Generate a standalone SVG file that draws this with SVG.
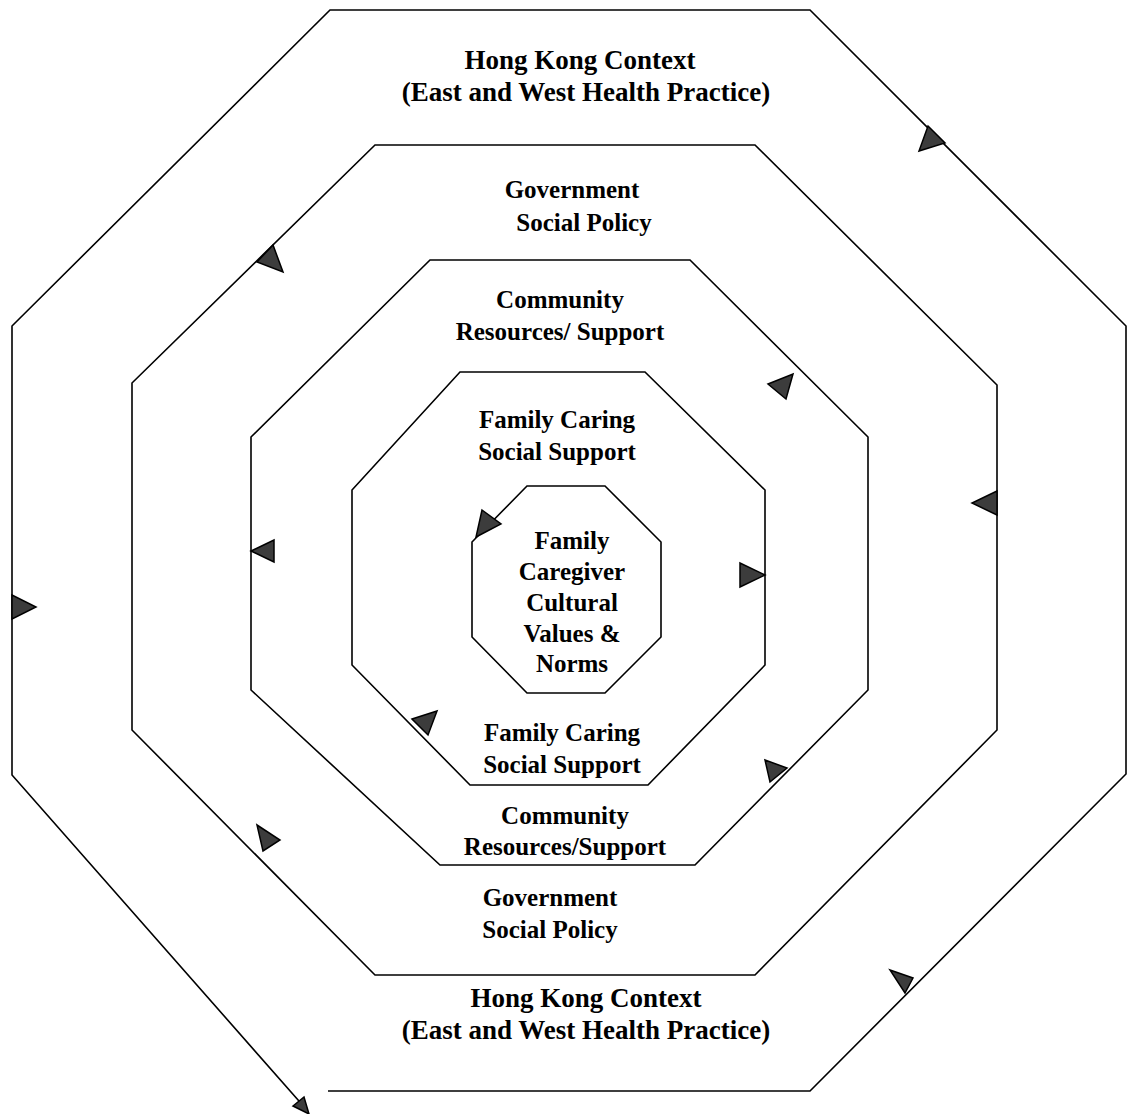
<svg xmlns="http://www.w3.org/2000/svg" width="1134" height="1114" viewBox="0 0 1134 1114">
  <style>
    .ring { fill: none; stroke: #000; stroke-width: 1.6; stroke-linejoin: miter; }
    .tri { fill: #3c3c3c; stroke: #000; stroke-width: 1.5; stroke-linejoin: miter; }
    .lbl { font-family: "Liberation Serif", "Times New Roman", serif; font-weight: bold; font-size: 25px; fill: #000; text-anchor: middle; }
    .big { font-size: 27px; }
  </style>
  <rect width="1134" height="1114" fill="#fff"/>

  <!-- Outer ring: Hong Kong context -->
  <g id="ring-hongkong">
    <path class="ring" d="M328,1091 L810,1091 L1126,774 L1126,326 L810,10 L330,10 L12,326 L12,775 L306,1109"/>
    <polygon class="tri" points="928,126 945,143 919,151"/>
    <polygon class="tri" points="12,595 12,619 36,607"/>
    <polygon class="tri" points="890,970 913,978 905,993"/>
    <polygon class="tri" points="293,1106 304,1097 309,1114" fill="#000"/>
    <text class="lbl big" x="580" y="69">Hong Kong Context</text>
    <text class="lbl big" x="586" y="101">(East and West Health Practice)</text>
    <text class="lbl big" x="586" y="1007">Hong Kong Context</text>
    <text class="lbl big" x="586" y="1039">(East and West Health Practice)</text>
  </g>

  <!-- Government social policy ring -->
  <g id="ring-government">
    <path class="ring" d="M375,145 L755,145 L997,385 L997,730 L755,975 L375,975 L132,730 L132,383 Z"/>
    <polygon class="tri" points="273,245 257,262 283,272"/>
    <polygon class="tri" points="997,491 997,515 972,503"/>
    <polygon class="tri" points="257,825 280,840 263,851"/>
    <text class="lbl" x="572" y="198">Government</text>
    <text class="lbl" x="584" y="231">Social Policy</text>
    <text class="lbl" x="550" y="906">Government</text>
    <text class="lbl" x="550" y="938">Social Policy</text>
  </g>

  <!-- Community resources / support ring -->
  <g id="ring-community">
    <path class="ring" d="M430,260 L690,260 L868,437 L868,690 L695,865 L440,865 L251,690 L251,437 Z"/>
    <polygon class="tri" points="768,384 793,374 786,399"/>
    <polygon class="tri" points="274,540 274,562 251,551"/>
    <polygon class="tri" points="765,760 787,768 770,782"/>
    <text class="lbl" x="560" y="308">Community</text>
    <text class="lbl" x="560" y="340">Resources/ Support</text>
    <text class="lbl" x="565" y="824">Community</text>
    <text class="lbl" x="565" y="855">Resources/Support</text>
  </g>

  <!-- Family caring social support ring -->
  <g id="ring-family">
    <path class="ring" d="M460,372 L645,372 L765,490 L765,665 L648,785 L470,785 L352,665 L352,490 Z"/>
    <polygon class="tri" points="740,563 740,587 765,575"/>
    <polygon class="tri" points="412,719 437,711 428,735"/>
    <text class="lbl" x="557" y="428">Family Caring</text>
    <text class="lbl" x="557" y="460">Social Support</text>
    <text class="lbl" x="562" y="741">Family Caring</text>
    <text class="lbl" x="562" y="773">Social Support</text>
  </g>

  <!-- Core: caregiver cultural values -->
  <g id="core-values">
    <path class="ring" d="M527,486 L605,486 L661,542 L661,637 L605,693 L527,693 L472,637 L472,542 Z"/>
    <polygon class="tri" points="482,510 501,524 476,537"/>
    <text class="lbl" x="572" y="549">Family</text>
    <text class="lbl" x="572" y="580">Caregiver</text>
    <text class="lbl" x="572" y="611">Cultural</text>
    <text class="lbl" x="572" y="642">Values &amp;</text>
    <text class="lbl" x="572" y="672">Norms</text>
  </g>
</svg>
